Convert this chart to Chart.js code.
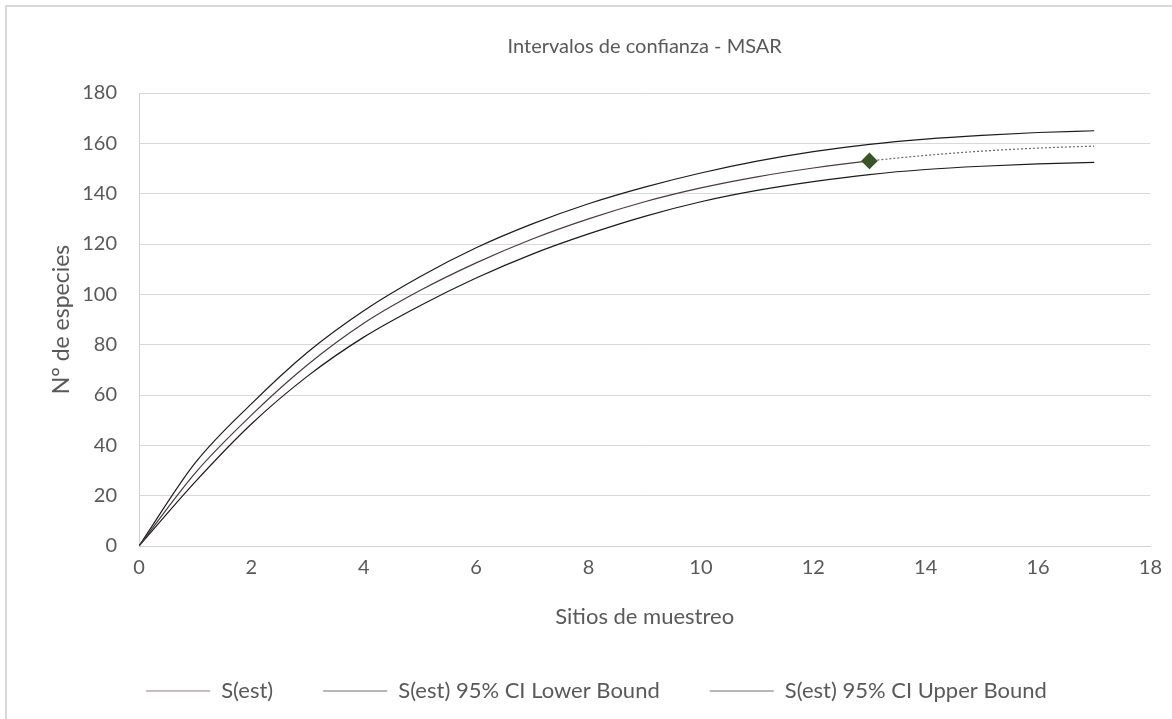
<!DOCTYPE html>
<html>
<head>
<meta charset="utf-8">
<title>Intervalos de confianza - MSAR</title>
<script src="https://cdn.jsdelivr.net/npm/chart.js@4/dist/chart.umd.min.js"></script>
<style>
  html, body { margin: 0; padding: 0; background: #fff; overflow: hidden; }
  #marco {
    position: absolute; left: 5px; top: 5px;
    width: 1220px; height: 760px;
    border: 2px solid #d9d9d9;
  }
  #grafico { position: absolute; left: 0; top: 0; }
</style>
</head>
<body>
<div id="marco"></div>
<canvas id="grafico" width="1172" height="719"></canvas>
<script>
// sitios de muestreo (0 a 17; desde 14 es extrapolación)
const sitios = [0, 1, 2, 3, 4, 5, 6, 7, 8, 9, 10, 11, 12, 13, 14, 15, 16, 17];
const sEst = [0, 29, 52, 72, 88.5, 101.5, 112.5, 122, 130, 136.8, 142.3, 146.7, 150.2, 153, 155.2, 156.9, 158.1, 158.9];
const ciLower = [0, 25.5, 48.5, 67.5, 83, 95.5, 106.5, 116, 124, 131, 136.8, 141.3, 144.8, 147.6, 149.6, 150.9, 151.8, 152.4];
const ciUpper = [0, 33, 56.5, 77, 93.5, 107, 118.5, 128, 136, 142.6, 148.2, 152.9, 156.7, 159.6, 161.7, 163.2, 164.3, 165];
const sitiosObservados = 13;

const yTicks = [0, 20, 40, 60, 80, 100, 120, 140, 160, 180];
const xTicks = [0, 2, 4, 6, 8, 10, 12, 14, 16, 18];

const gris = '#595959';
const colorSEst = '#4a3b40';
const colorMarca = '#375623';
Chart.defaults.font.family = 'Lato, "Liberation Sans", sans-serif';
Chart.defaults.color = gris;

function puntos(valores) {
  return sitios.map((x, i) => ({ x: x, y: valores[i] }));
}

// el título se centra sobre el área de trazado, no sobre todo el lienzo
const tituloCentrado = {
  id: 'tituloCentrado',
  afterLayout(chart) {
    const t = chart.titleBlock;
    if (t) {
      t.left = chart.chartArea.left;
      t.right = chart.chartArea.right;
    }
  }
};

const ctx = document.getElementById('grafico').getContext('2d');

new Chart(ctx, {
  type: 'line',
  plugins: [tituloCentrado],
  data: {
    datasets: [
      {
        label: 'S(est)',
        data: puntos(sEst),
        borderColor: colorSEst,
        borderWidth: 1.2,
        cubicInterpolationMode: 'monotone',
        pointStyle: 'rectRot',
        pointRadius: c => (c.dataIndex === sitiosObservados ? 7.5 : 0),
        pointHoverRadius: c => (c.dataIndex === sitiosObservados ? 7.5 : 0),
        pointBackgroundColor: c => (c.dataIndex === sitiosObservados ? colorMarca : colorSEst),
        pointBorderColor: c => (c.dataIndex === sitiosObservados ? colorMarca : '#8c7c82'),
        // tramo extrapolado punteado
        segment: {
          borderDash: s => (s.p0DataIndex >= sitiosObservados ? [2, 2] : undefined),
          borderColor: s => (s.p0DataIndex >= sitiosObservados ? '#6b6b6b' : colorSEst)
        },
        order: 0
      },
      {
        label: 'S(est) 95% CI Lower Bound',
        data: puntos(ciLower),
        borderColor: '#1c1c1c',
        pointBorderColor: '#707070',
        borderWidth: 1.2,
        cubicInterpolationMode: 'monotone',
        pointRadius: 0,
        order: 1
      },
      {
        label: 'S(est) 95% CI Upper Bound',
        data: puntos(ciUpper),
        borderColor: '#1c1c1c',
        pointBorderColor: '#707070',
        borderWidth: 1.2,
        cubicInterpolationMode: 'monotone',
        pointRadius: 0,
        order: 2
      }
    ]
  },
  options: {
    responsive: false,
    animation: false,
    layout: { padding: { top: 10, left: 40, right: 19, bottom: 7 } },
    plugins: {
      title: {
        display: true,
        text: 'Intervalos de confianza - MSAR',
        color: gris,
        font: { size: 20, weight: 'normal' },
        padding: { top: 25, bottom: 34 }
      },
      legend: {
        position: 'bottom',
        maxHeight: 90,
        labels: {
          usePointStyle: true,
          pointStyle: 'line',
          pointStyleWidth: 64,
          padding: 50,
          color: gris,
          font: { size: 22 }
        }
      },
      tooltip: { enabled: false }
    },
    scales: {
      x: {
        type: 'linear',
        min: 0,
        max: 18,
        afterBuildTicks: s => { s.ticks = xTicks.map(v => ({ value: v })); },
        afterFit: s => { s.height = 84; },
        ticks: { color: gris, font: { size: 20 }, padding: 10 },
        grid: { display: false, drawTicks: false },
        border: { display: true, color: '#d0d0d0', width: 1 },
        title: {
          display: true,
          text: 'Sitios de muestreo',
          color: gris,
          font: { size: 22 },
          padding: { top: 20, bottom: 0 }
        }
      },
      y: {
        min: 0,
        max: 180,
        afterBuildTicks: s => { s.ticks = yTicks.map(v => ({ value: v })); },
        afterFit: s => { s.width = 99; },
        ticks: { color: gris, font: { size: 20 }, padding: 22 },
        grid: { color: '#d9d9d9', lineWidth: 1, drawTicks: false },
        border: { display: true, color: '#d0d0d0', width: 1 },
        title: {
          display: true,
          text: 'N° de especies',
          color: gris,
          font: { size: 23 },
          padding: { top: 8, bottom: 0 }
        }
      }
    }
  }
});
</script>
</body>
</html>
